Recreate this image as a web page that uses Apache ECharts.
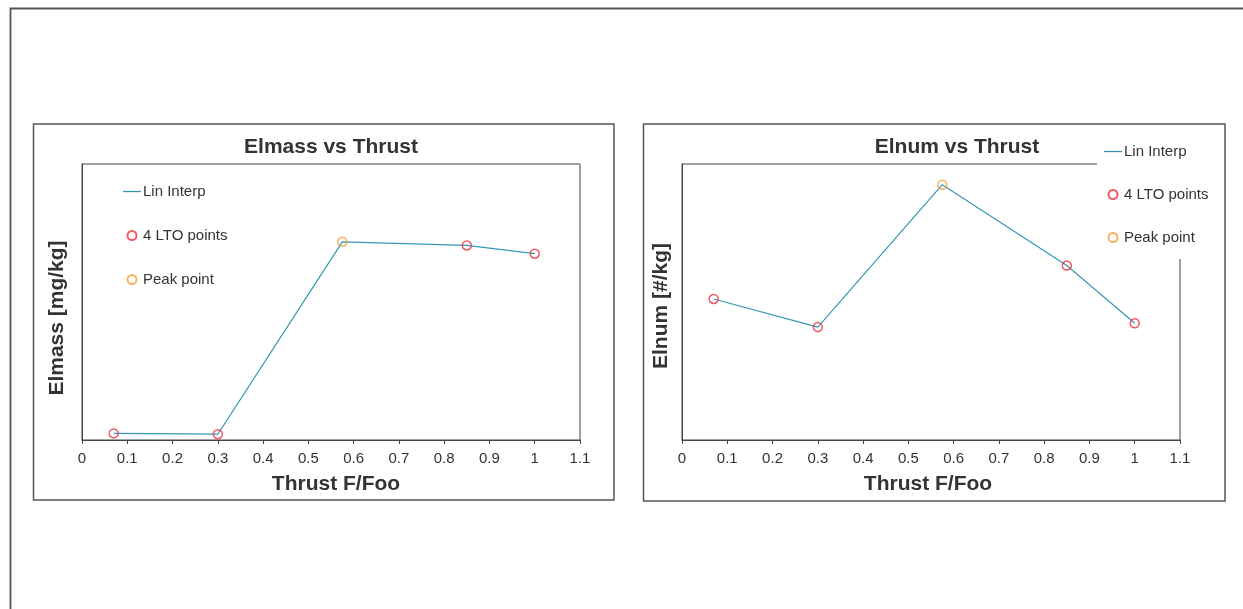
<!DOCTYPE html>
<html>
<head>
<meta charset="utf-8">
<script src="https://cdn.jsdelivr.net/npm/echarts@6/dist/echarts.min.js"></script>
<style>
html,body{margin:0;padding:0;background:#fff;}
#chart{width:1243px;height:609px;}
</style>
</head>
<body>
<div id="chart"></div>
<script>
// ---- data ----
const thrust = [0.07, 0.3, 0.575, 0.85, 1.0];
const elmass = [2.4, 2.1, 71.8, 70.5, 67.5];
const elnum = [51.1, 40.9, 92.5, 63.2, 42.3];
const peakIndex = 2;
const xMin = 0, xMax = 1.1, xStep = 0.1;
const titles = ['Elmass vs Thrust', 'Elnum vs Thrust'];
const yNames = ['Elmass [mg/kg]', 'Elnum [#/kg]'];
const xName = 'Thrust F/Foo';
const seriesNames = ['Lin Interp', '4 LTO points', 'Peak point'];

const FONT = "'Liberation Sans Narrow', 'Arial Narrow', 'Liberation Sans', Arial, sans-serif";
const LINE = '#3597b3', RED = '#e8333f', ORANGE = '#f5a03a', AX = '#444';

function pairs(ys, filter) {
  return thrust.map((x, i) => [x, ys[i], i]).filter(p => filter(p[2])).map(p => [p[0], p[1]]);
}

const chart = echarts.init(document.getElementById('chart'), null, {renderer: 'canvas'});

function xAxis(gi) {
  return {
    gridIndex: gi, type: 'value', min: xMin, max: xMax, interval: xStep,
    name: xName, nameLocation: 'middle', nameGap: 34,
    nameTextStyle: {fontFamily: FONT, fontSize: 21, fontWeight: 'bold', color: '#333', padding: gi === 0 ? [0, 0, 0, 10] : [0, 6, 0, 0]},
    axisLine: {show: true, lineStyle: {color: AX, width: 1}},
    axisTick: {show: true, inside: false, length: 4, lineStyle: {color: AX}},
    axisLabel: {fontFamily: FONT, fontSize: 15, color: '#333', margin: 11,
      formatter: v => String(Math.round(v * 10) / 10)},
    splitLine: {show: false}
  };
}
function yAxis(gi) {
  return {
    gridIndex: gi, type: 'value', min: 0, max: 100,
    name: yNames[gi], nameLocation: 'middle', nameGap: gi === 0 ? 14 : 10,
    nameTextStyle: {fontFamily: FONT, fontSize: 21, fontWeight: 'bold', color: '#333',
      padding: gi === 0 ? [0, 32, 0, 0] : [0, 8, 0, 0]},
    axisLine: {show: true, lineStyle: {color: AX, width: 1}},
    axisTick: {show: false}, axisLabel: {show: false}, splitLine: {show: false}
  };
}
function seriesFor(gi, ys) {
  return [
    {name: seriesNames[0], type: 'line', xAxisIndex: gi, yAxisIndex: gi, data: pairs(ys, () => true),
      symbol: 'none', lineStyle: {color: LINE, width: 1.2}, itemStyle: {color: LINE}, z: 2, animation: false},
    {name: seriesNames[1], type: 'scatter', xAxisIndex: gi, yAxisIndex: gi, data: pairs(ys, i => i !== peakIndex),
      symbol: 'circle', symbolSize: 9,
      itemStyle: {color: 'rgba(0,0,0,0)', borderColor: RED, borderWidth: 1.5}, z: 3, animation: false},
    {name: seriesNames[2], type: 'scatter', xAxisIndex: gi, yAxisIndex: gi, data: pairs(ys, i => i === peakIndex),
      symbol: 'circle', symbolSize: 9,
      itemStyle: {color: 'rgba(0,0,0,0)', borderColor: ORANGE, borderWidth: 1.5}, z: 3, animation: false}
  ];
}
const legendText = {fontFamily: FONT, fontSize: 15, color: '#333', padding: [0, 0, 0, -3]};
const legendData = [
  {name: seriesNames[0], icon: 'path://M0,0h18v1.3h-18z', itemStyle: {color: LINE, borderWidth: 0}},
  {name: seriesNames[1]},
  {name: seriesNames[2]}
];

chart.setOption({
  animation: false,
  backgroundColor: '#fff',
  title: [
    {text: titles[0], left: 326, top: 132, textAlign: 'center',
      textStyle: {fontFamily: FONT, fontSize: 21, fontWeight: 'bold', color: '#333'}},
    {text: titles[1], left: 952, top: 132, textAlign: 'center',
      textStyle: {fontFamily: FONT, fontSize: 21, fontWeight: 'bold', color: '#333'}}
  ],
  grid: [
    {left: 82, top: 164, width: 498, height: 276, show: true, borderColor: AX, borderWidth: 1, containLabel: false},
    {left: 682, top: 164, width: 498, height: 276, show: true, borderColor: AX, borderWidth: 1, containLabel: false}
  ],
  xAxis: [xAxis(0), xAxis(1)],
  yAxis: [yAxis(0), yAxis(1)],
  legend: [
    {orient: 'vertical', left: 123, top: 184, padding: 0, itemWidth: 18, itemHeight: 9, itemGap: 29,
      data: legendData, textStyle: legendText, selectedMode: false, z: 5},
    {orient: 'vertical', left: 1097, top: 138, padding: [6, 8, 14, 7], itemWidth: 18, itemHeight: 9, itemGap: 28,
      backgroundColor: '#fff', data: legendData, textStyle: legendText, selectedMode: false, z: 5}
  ],
  series: [...seriesFor(0, elmass), ...seriesFor(1, elnum)],
  graphic: [
    {type: 'rect', shape: {x: 10.5, y: 8.5, width: 1400, height: 800}, style: {fill: null, stroke: '#555', lineWidth: 1.8}, silent: true, z: -1},
    {type: 'rect', shape: {x: 33.5, y: 124, width: 580.5, height: 376}, style: {fill: null, stroke: '#555', lineWidth: 1.5}, silent: true, z: -1},
    {type: 'rect', shape: {x: 643.5, y: 124, width: 581.5, height: 377}, style: {fill: null, stroke: '#555', lineWidth: 1.5}, silent: true, z: -1}
  ]
});
</script>
</body>
</html>
